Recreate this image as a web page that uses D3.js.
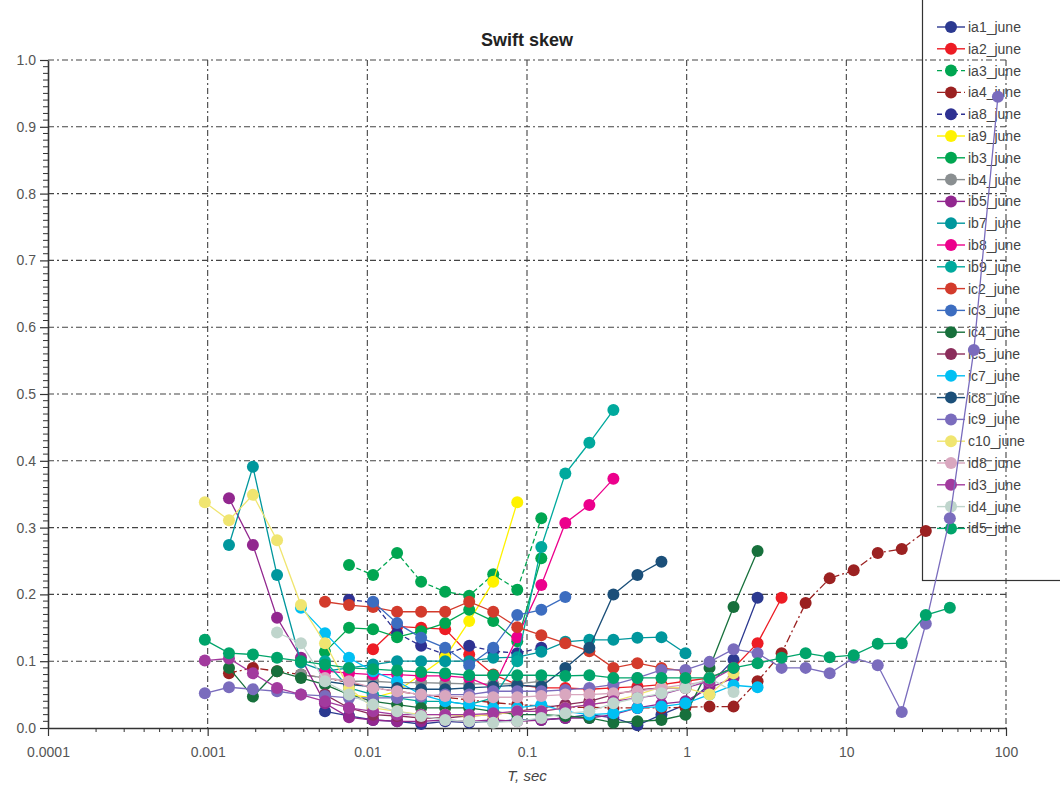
<!DOCTYPE html>
<html>
<head>
<meta charset="utf-8">
<script src="https://cdn.jsdelivr.net/npm/d3@7"></script>
<style>
  body { margin: 0; background: #fff; }
  svg { display: block; font-family: "Liberation Sans", Arial, sans-serif; }
</style>
</head>
<body>
<svg id="chart" width="1060" height="785"></svg>
<script>
// sampling periods shared by all series (sec)
const T = [0.00096, 0.00136, 0.00192, 0.00272, 0.00384, 0.00543, 0.00768, 0.01086, 0.01536, 0.02172,
  0.03072, 0.04345, 0.06144, 0.08689, 0.1229, 0.1738, 0.2458, 0.3476, 0.4915, 0.6951,
  0.983, 1.39, 1.966, 2.78, 3.932, 5.561, 7.864, 11.12, 15.73, 22.24,
  31.46, 44.49, 62.91, 88.97];

const seriesNames = ['ia1_june', 'ia2_june', 'ia3_june', 'ia4_june', 'ia8_june', 'ia9_june',
  'ib3_june', 'ib4_june', 'ib5_june', 'ib7_june', 'ib8_june', 'ib9_june',
  'ic2_june', 'ic3_june', 'ic4_june', 'ic5_june', 'ic7_june', 'ic8_june',
  'ic9_june', 'c10_june', 'id8_june', 'id3_june', 'id4_june', 'id5_june'];

// index into T of each series' first point
const seriesStart = [5, 7, 6, 1, 6, 6, 5, 4, 1, 1, 5, 5, 5, 7, 1, 5, 4, 5, 0, 0, 5, 0, 3, 0];

const seriesValues = [
  [0.025, 0.018, 0.012, 0.01, 0.006, 0.01, 0.008, 0.01, 0.012, 0.012, 0.015, 0.02, 0.015, 0.004, 0.02, 0.035, 0.065, 0.102, 0.195],
  [0.118, 0.152, 0.15, 0.148, 0.11, 0.08, 0.065, 0.06, 0.06, 0.058, 0.06, 0.062, 0.065, 0.07, 0.075, 0.09, 0.127, 0.195],
  [0.244, 0.229, 0.262, 0.219, 0.204, 0.198, 0.23, 0.207, 0.314],
  [0.082, 0.09, 0.085, 0.08, 0.075, 0.068, 0.06, 0.055, 0.05, 0.046, 0.042, 0.038, 0.035, 0.033, 0.031, 0.031, 0.03, 0.03, 0.03, 0.031, 0.032, 0.032, 0.07, 0.112, 0.187, 0.224, 0.236, 0.262, 0.268, 0.295],
  [0.192, 0.188, 0.142, 0.123, 0.11, 0.123, 0.115, 0.112, 0.12],
  [0.05, 0.045, 0.055, 0.08, 0.106, 0.16, 0.219, 0.338],
  [0.114, 0.15, 0.148, 0.136, 0.145, 0.157, 0.177, 0.16, 0.13, 0.254],
  [0.08, 0.075, 0.07, 0.07, 0.068, 0.068, 0.067, 0.066, 0.066, 0.066, 0.07],
  [0.344, 0.274, 0.165, 0.105, 0.037, 0.016, 0.012, 0.01, 0.01, 0.012, 0.01, 0.012, 0.01, 0.012, 0.015, 0.015, 0.02, 0.03, 0.036, 0.04, 0.06, 0.075],
  [0.274, 0.391, 0.229, 0.098, 0.085, 0.09, 0.095, 0.1, 0.1, 0.1, 0.1, 0.105, 0.106, 0.114, 0.129, 0.132, 0.132, 0.135, 0.136, 0.112],
  [0.085, 0.082, 0.08, 0.08, 0.078, 0.078, 0.075, 0.06, 0.136, 0.214, 0.307, 0.334, 0.373],
  [0.1, 0.06, 0.05, 0.045, 0.04, 0.04, 0.035, 0.045, 0.1, 0.271, 0.381, 0.427, 0.476],
  [0.189, 0.184, 0.181, 0.174, 0.174, 0.174, 0.189, 0.174, 0.151, 0.139, 0.127, 0.115, 0.09, 0.097, 0.09, 0.085],
  [0.189, 0.157, 0.135, 0.12, 0.094, 0.12, 0.169, 0.177, 0.196],
  [0.09, 0.047, 0.085, 0.075, 0.065, 0.05, 0.04, 0.035, 0.03, 0.03, 0.03, 0.025, 0.02, 0.02, 0.018, 0.015, 0.008, 0.01, 0.012, 0.02, 0.09, 0.181, 0.265],
  [0.05, 0.03, 0.02, 0.018, 0.015, 0.015, 0.018, 0.02, 0.025, 0.03, 0.035, 0.04, 0.05, 0.057, 0.06, 0.06],
  [0.18, 0.142, 0.105, 0.085, 0.07, 0.05, 0.04, 0.035, 0.03, 0.03, 0.035, 0.025, 0.02, 0.022, 0.03, 0.032, 0.037, 0.05, 0.064, 0.061],
  [0.07, 0.065, 0.062, 0.06, 0.058, 0.058, 0.06, 0.062, 0.064, 0.062, 0.09, 0.12, 0.2, 0.229, 0.249],
  [0.052, 0.061, 0.058, 0.055, 0.05, 0.048, 0.045, 0.045, 0.045, 0.047, 0.05, 0.05, 0.055, 0.055, 0.055, 0.057, 0.06, 0.065, 0.075, 0.087, 0.087, 0.099, 0.118, 0.112, 0.09, 0.09, 0.082, 0.105, 0.094, 0.024, 0.156, 0.314, 0.566, 0.945],
  [0.338, 0.311, 0.349, 0.281, 0.184, 0.127, 0.06, 0.03, 0.025, 0.02, 0.02, 0.018, 0.02, 0.025, 0.025, 0.03, 0.035, 0.04, 0.05, 0.061, 0.06, 0.05, 0.082],
  [0.075, 0.07, 0.06, 0.055, 0.05, 0.048, 0.046, 0.046, 0.046, 0.048, 0.05, 0.05, 0.052, 0.055, 0.06, 0.065, 0.07],
  [0.101, 0.104, 0.082, 0.06, 0.05, 0.04, 0.03, 0.025, 0.02, 0.02, 0.02, 0.02, 0.022, 0.025, 0.025, 0.03, 0.035, 0.04, 0.045, 0.05, 0.06, 0.07, 0.09],
  [0.143, 0.127, 0.07, 0.05, 0.035, 0.025, 0.018, 0.012, 0.01, 0.008, 0.01, 0.015, 0.022, 0.025, 0.037, 0.045, 0.052, 0.06, 0.075, 0.054],
  [0.132, 0.112, 0.11, 0.105, 0.1, 0.095, 0.09, 0.088, 0.086, 0.084, 0.082, 0.079, 0.079, 0.079, 0.079, 0.078, 0.079, 0.075, 0.075, 0.075, 0.075, 0.075, 0.09, 0.097, 0.105, 0.112, 0.106, 0.109, 0.126, 0.127, 0.169, 0.18]
];

const seriesColors = ['#2b3990', '#ed1c24', '#00a651', '#9b2121', '#2e3192', '#fff200',
  '#00a651', '#8a8f91', '#92278f', '#00979d', '#ec008c', '#00a99d',
  '#d33b2c', '#3c6dc0', '#17703c', '#8b2d5b', '#00bff3', '#1b4f79',
  '#7a6cbd', '#f0e570', '#d9a7bf', '#a23a9e', '#bfd5cc', '#00a46a'];

const seriesDash = {'ia3_june': '5,3', 'ia4_june': '8,3,2,3', 'ia8_june': '5,3'};

const xTicks = [0.0001, 0.001, 0.01, 0.1, 1, 10, 100];
const xTickLabels = ['0.0001', '0.001', '0.01', '0.1', '1', '10', '100'];
const yTicks = [0, 0.1, 0.2, 0.3, 0.4, 0.5, 0.6, 0.7, 0.8, 0.9, 1.0];

const svg = d3.select('#chart');
const plotLeft = 48, plotRight = 1006, plotTop = 60, plotBottom = 728;

const x = d3.scaleLog().domain([0.0001, 100]).range([plotLeft, plotRight]);
const y = d3.scaleLinear().domain([0, 1]).range([plotBottom, plotTop]);

// grid
const grid = svg.append('g');
grid.selectAll('.vg').data(xTicks.slice(1)).join('line')
  .attr('x1', d => x(d)).attr('x2', d => x(d))
  .attr('y1', plotTop).attr('y2', plotBottom)
  .attr('stroke', '#444').attr('stroke-width', 1.1).attr('stroke-dasharray', '6,3,2,3');
grid.selectAll('.hg').data(yTicks.slice(1)).join('line')
  .attr('x1', plotLeft).attr('x2', plotRight)
  .attr('y1', d => y(d)).attr('y2', d => y(d))
  .attr('stroke', '#444').attr('stroke-width', 1.1).attr('stroke-dasharray', '6,3,2,3');

// title and axis label
svg.append('text').attr('x', 527).attr('y', 46).attr('text-anchor', 'middle')
  .attr('font-size', 18).attr('font-weight', 'bold').attr('fill', '#222').text('Swift skew');
svg.append('text').attr('x', 527).attr('y', 781).attr('text-anchor', 'middle')
  .attr('font-size', 15).attr('font-style', 'italic').attr('fill', '#444').text('T, sec');

// axes
const xAxis = svg.append('g').attr('transform', `translate(0,${plotBottom})`)
  .call(d3.axisBottom(x).tickValues(xTicks).tickFormat((d, i) => xTickLabels[i]).tickSize(8).tickSizeOuter(0));
const minorX = [];
xTicks.slice(0, -1).forEach(d => { for (let m = 2; m <= 9; m++) minorX.push(d * m); });
xAxis.selectAll('.minor').data(minorX).join('line').attr('class', 'minor')
  .attr('x1', d => x(d)).attr('x2', d => x(d)).attr('y1', 0).attr('y2', 4)
  .attr('stroke', '#333');

const yAxis = svg.append('g').attr('transform', `translate(${plotLeft},0)`)
  .call(d3.axisLeft(y).tickValues(yTicks).tickFormat(d3.format('.1f')).tickSize(8).tickSizeOuter(0));
const minorY = d3.range(0, 100).filter(i => i % 10 !== 0).map(i => i / 100);
yAxis.selectAll('.minor').data(minorY).join('line').attr('class', 'minor')
  .attr('x1', -5).attr('x2', 0).attr('y1', d => y(d)).attr('y2', d => y(d))
  .attr('stroke', '#333');

[xAxis, yAxis].forEach(a => {
  a.select('.domain').attr('stroke', '#333').attr('stroke-width', 1.6);
  a.selectAll('.tick line').attr('stroke', '#333').attr('stroke-width', 1.2);
  a.selectAll('.tick text').attr('font-size', 14).attr('fill', '#555')
    .attr('font-family', '"Liberation Sans", Arial, sans-serif');
});
xAxis.selectAll('.tick text').attr('dy', '1.25em');
yAxis.selectAll('.tick text').attr('x', -12);

// legend (drawn under the series, lines show through it)
const legend = svg.append('g');
legend.append('rect').attr('x', 922.5).attr('y', -5).attr('width', 160).attr('height', 585.5)
  .attr('fill', 'none').attr('stroke', '#333').attr('stroke-width', 1.2);
seriesNames.forEach((name, i) => {
  const ly = 27 + 21.8 * i;
  legend.append('line').attr('x1', 937).attr('x2', 965).attr('y1', ly).attr('y2', ly)
    .attr('stroke', seriesColors[i]).attr('stroke-width', 1.4)
    .attr('stroke-dasharray', seriesDash[name] || null);
  legend.append('circle').attr('cx', 951).attr('cy', ly).attr('r', 6).attr('fill', seriesColors[i]);
  legend.append('text').attr('x', 968).attr('y', ly).attr('dy', '0.35em')
    .attr('font-size', 14).attr('fill', '#444').text(name);
});

// series
const line = d3.line().x(d => x(d[0])).y(d => y(d[1]));
seriesNames.forEach((name, i) => {
  const pts = seriesValues[i].map((v, j) => [T[seriesStart[i] + j], v]);
  const g = svg.append('g');
  g.append('path').datum(pts).attr('d', line).attr('fill', 'none')
    .attr('stroke', seriesColors[i]).attr('stroke-width', 1.3)
    .attr('stroke-dasharray', seriesDash[name] || null);
  g.selectAll('circle').data(pts).join('circle')
    .attr('cx', d => x(d[0])).attr('cy', d => y(d[1])).attr('r', 6)
    .attr('fill', seriesColors[i]);
});
</script>
</body>
</html>
